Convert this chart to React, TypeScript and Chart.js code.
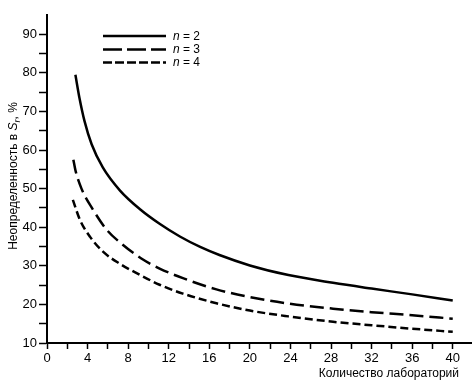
import React, { useEffect, useRef } from 'react';
import { Chart, registerables } from 'chart.js';

Chart.register(...registerables);

// Number of laboratories (x) and uncertainty in S_r, % (y)
const N2_X = [2.8, 3.2, 3.7, 4.4, 5.5, 7.2, 9.2, 11.1, 13.1, 15.1, 17, 20, 23.8, 28.2, 32, 36, 40];
const N2_Y = [79.5, 73.5, 67.5, 61.5, 55.5, 49.5, 44.6, 40.9, 37.6, 34.9, 32.8, 30.1, 27.6, 25.6, 24.1, 22.6, 21.0];

const N3_X = [2.6, 2.8, 3.4, 4.5, 5.9, 7.5, 9.3, 11.1, 13.4, 16.7, 20, 23.8, 28.2, 32, 36, 40];
const N3_Y = [57.5, 54.8, 50.0, 44.7, 39.3, 35.4, 31.9, 29.3, 26.8, 23.9, 21.9, 20.2, 18.9, 18.0, 17.2, 16.3];

const N4_X = [2.55, 3.25, 4.25, 5.55, 7.2, 9.2, 11.1, 13.4, 16.7, 20, 23.8, 28.2, 32, 36, 40];
const N4_Y = [47.1, 41.9, 37.5, 33.6, 30.5, 27.6, 25.1, 22.8, 20.3, 18.4, 16.9, 15.5, 14.6, 13.7, 12.9];

const SERIES_LABELS = ['2', '3', '4'];

const X_TICKS = [0, 2, 4, 6, 8, 10, 12, 14, 16, 18, 20, 22, 24, 26, 28, 30, 32, 34, 36, 38, 40];
const Y_TICKS = [10, 15, 20, 25, 30, 35, 40, 45, 50, 55, 60, 65, 70, 75, 80, 85, 90];

const X_TITLE = 'Количество лабораторий';
const Y_TITLE_A = 'Неопределенность в ';
const Y_TITLE_S = 'S';
const Y_TITLE_SUB = 'r';
const Y_TITLE_B = ', %';

const FONT = '"Liberation Sans", Arial, sans-serif';

const zip = (xs: number[], ys: number[]) => xs.map((x, i) => ({ x, y: ys[i] }));

const PLOT_DASHES = [[], [14, 6], [8, 4]];
const LEGEND_DASHES = [[], [19, 5], [9, 3]];

const annotPlugin = {
  id: 'annot',
  afterDraw(chart: any) {
    const ctx = chart.ctx as CanvasRenderingContext2D;
    ctx.save();
    ctx.fillStyle = '#000';
    ctx.strokeStyle = '#000';

    // Legend
    const ly = [36, 49.5, 62.5];
    SERIES_LABELS.forEach((lab, i) => {
      ctx.beginPath();
      ctx.lineWidth = 2.5;
      ctx.setLineDash(LEGEND_DASHES[i]);
      ctx.moveTo(103, ly[i]);
      ctx.lineTo(166, ly[i]);
      ctx.stroke();
      ctx.setLineDash([]);
      ctx.textBaseline = 'middle';
      ctx.textAlign = 'left';
      ctx.font = `italic 12px ${FONT}`;
      ctx.fillText('n', 173, ly[i] + 0.5);
      const w = ctx.measureText('n').width;
      ctx.font = `12px ${FONT}`;
      ctx.fillText(' = ' + lab, 173 + w, ly[i] + 0.5);
    });

    // X title
    ctx.textBaseline = 'alphabetic';
    ctx.textAlign = 'right';
    ctx.font = `12px ${FONT}`;
    ctx.fillText(X_TITLE, 459, 377);

    // Y title (rotated, with italic S and subscript r)
    ctx.textAlign = 'left';
    const fA = `12px ${FONT}`;
    const fS = `italic 12px ${FONT}`;
    const fR = `italic 9px ${FONT}`;
    ctx.font = fA;
    const wA = ctx.measureText(Y_TITLE_A).width;
    const wB = ctx.measureText(Y_TITLE_B).width;
    ctx.font = fS;
    const wS = ctx.measureText(Y_TITLE_S).width;
    ctx.font = fR;
    const wR = ctx.measureText(Y_TITLE_SUB).width;
    const total = wA + wS + wR + wB;
    ctx.translate(17, 176);
    ctx.rotate(-Math.PI / 2);
    let x = -total / 2;
    ctx.font = fA;
    ctx.fillText(Y_TITLE_A, x, 0);
    x += wA;
    ctx.font = fS;
    ctx.fillText(Y_TITLE_S, x, 0);
    x += wS;
    ctx.font = fR;
    ctx.fillText(Y_TITLE_SUB, x, 3);
    x += wR;
    ctx.font = fA;
    ctx.fillText(Y_TITLE_B, x, 0);
    ctx.restore();
  },
};

export default function App() {
  const ref = useRef<HTMLCanvasElement>(null);

  useEffect(() => {
    if (!ref.current) return;
    const series = [zip(N2_X, N2_Y), zip(N3_X, N3_Y), zip(N4_X, N4_Y)];
    const chart = new Chart(ref.current, {
      type: 'line',
      data: {
        datasets: series.map((d, i) => ({
          label: 'n = ' + SERIES_LABELS[i],
          data: d,
          borderColor: '#000',
          borderWidth: 2.5,
          borderDash: PLOT_DASHES[i],
          pointRadius: 0,
          fill: false,
          cubicInterpolationMode: 'monotone' as const,
        })),
      },
      options: {
        animation: false,
        responsive: false,
        maintainAspectRatio: false,
        layout: { padding: { top: 15, right: 4, left: 0, bottom: 0 } },
        plugins: { legend: { display: false }, tooltip: { enabled: false } },
        scales: {
          x: {
            type: 'linear',
            min: 0,
            max: 41.8,
            afterBuildTicks: (scale: any) => {
              scale.ticks = X_TICKS.map((v) => ({ value: v }));
            },
            afterFit: (scale: any) => {
              scale.height = 40;
            },
            border: { display: true, color: '#000', width: 2 },
            grid: { drawOnChartArea: false, drawTicks: true, tickLength: 6, tickColor: '#000', tickWidth: 1.5 },
            ticks: {
              autoSkip: false,
              maxRotation: 0,
              padding: 2,
              color: '#000',
              font: { family: FONT, size: 13 },
              callback: (v: any) => (Number(v) % 4 === 0 ? String(v) : ''),
            },
          },
          y: {
            type: 'linear',
            min: 10,
            max: 95,
            afterBuildTicks: (scale: any) => {
              scale.ticks = Y_TICKS.map((v) => ({ value: v }));
            },
            afterFit: (scale: any) => {
              scale.width = 47;
            },
            border: { display: true, color: '#000', width: 2 },
            grid: { drawOnChartArea: false, drawTicks: true, tickLength: 8, tickColor: '#000', tickWidth: 1.5 },
            ticks: {
              autoSkip: false,
              padding: 2,
              color: '#000',
              font: { family: FONT, size: 13 },
              callback: (v: any) => (Number(v) % 10 === 0 ? String(v) : ''),
            },
          },
        },
      },
      plugins: [annotPlugin],
    });
    return () => chart.destroy();
  }, []);

  return (
    <div style={{ position: 'fixed', left: 0, top: 0, width: 475, height: 383, background: '#fff' }}>
      <canvas ref={ref} width={475} height={383} style={{ width: 475, height: 383, display: 'block' }} />
    </div>
  );
}
